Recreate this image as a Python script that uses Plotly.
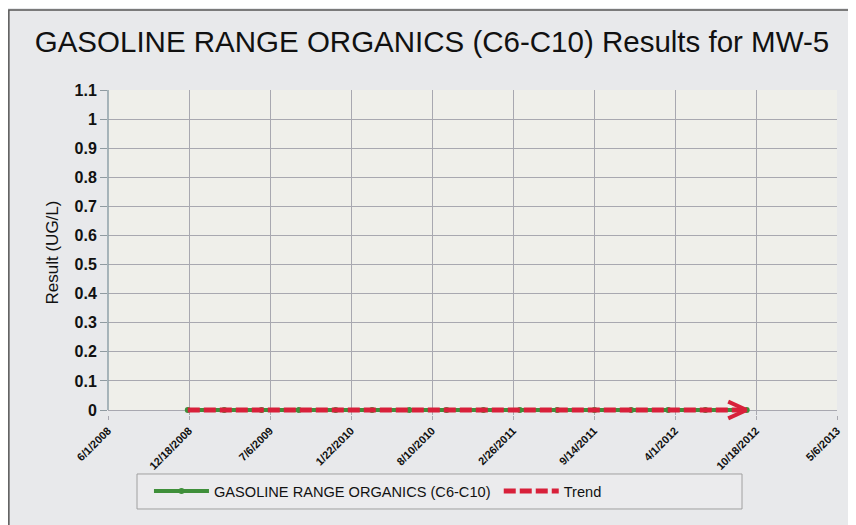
import plotly.graph_objects as go

# ---- data ----
sample_dates = ["2008-12-15", "2009-03-15", "2009-06-15", "2009-09-15", "2009-12-15",
                "2010-03-15", "2010-06-15", "2010-09-15", "2010-12-15", "2011-03-15",
                "2011-06-15", "2011-09-15", "2011-12-15", "2012-03-15", "2012-06-15",
                "2012-09-25"]
results = [0, 0, 0, 0, 0, 0, 0, 0, 0, 0, 0, 0, 0, 0, 0, 0]
trend_dates = ["2008-12-15", "2012-09-25"]
trend_values = [0, 0]
tick_dates = ["2008-06-01", "2008-12-18", "2009-07-06", "2010-01-22", "2010-08-10",
              "2011-02-26", "2011-09-14", "2012-04-01", "2012-10-18", "2013-05-06"]
tick_labels = ["6/1/2008", "12/18/2008", "7/6/2009", "1/22/2010", "8/10/2010",
               "2/26/2011", "9/14/2011", "4/1/2012", "10/18/2012", "5/6/2013"]
y_ticks = [0, 0.1, 0.2, 0.3, 0.4, 0.5, 0.6, 0.7, 0.8, 0.9, 1, 1.1]
y_labels = ["0", "0.1", "0.2", "0.3", "0.4", "0.5", "0.6", "0.7", "0.8", "0.9", "1", "1.1"]
y_min, y_max = 0, 1.1

FONT = "Liberation Sans, Arial, sans-serif"
RED = "#d8203a"
GREEN = "#3f8f3a"
PAPER = "#e8e9eb"

fig = go.Figure()
fig.add_trace(go.Scatter(
    x=sample_dates, y=results, mode="lines+markers",
    name="GASOLINE RANGE ORGANICS (C6-C10)",
    line=dict(color=GREEN, width=4),
    marker=dict(color=GREEN, size=6, symbol="circle"),
    cliponaxis=False, legend="legend",
))
fig.add_trace(go.Scatter(
    x=trend_dates, y=trend_values, mode="lines",
    name="Trend",
    line=dict(color=RED, width=5, dash="12px,4px"),
    legend="legend2",
))
# open chevron arrow head at end of trend
for dy in (-9, 9):
    fig.add_annotation(
        x=trend_dates[-1], y=trend_values[-1], ax=-20, ay=dy,
        xref="x", yref="y",
        showarrow=True, arrowhead=0, arrowwidth=4, arrowcolor=RED, text="",
    )

legend_common = dict(orientation="h", xanchor="left", y=-0.2338, yanchor="middle",
                     bgcolor="rgba(0,0,0,0)", borderwidth=0,
                     font=dict(size=14.6, family=FONT, color="#111111"),
                     itemwidth=55)

fig.update_layout(
    width=848, height=517,
    margin=dict(l=100, r=19, t=82, b=110),
    paper_bgcolor=PAPER,
    plot_bgcolor=PAPER,
    font=dict(family=FONT, color="#111111"),
    title=dict(text="GASOLINE RANGE ORGANICS (C6-C10) Results for MW-5",
               x=0.5, xref="container", xanchor="center", y=0.935, yanchor="middle",
               font=dict(size=29.5, family=FONT, color="#111111")),
    showlegend=True,
    legend=dict(x=0.0562, **legend_common),
    legend2=dict(x=0.536, **legend_common),
    shapes=[
        # plotting area background (value range only)
        dict(type="rect", xref="paper", yref="y", x0=0, x1=1, y0=y_min, y1=y_max,
             line=dict(width=0), fillcolor="#efefea", layer="below"),
        # y axis line
        dict(type="line", xref="paper", yref="y", x0=0, x1=0, y0=y_min, y1=y_max,
             line=dict(color="#8fa0a8", width=1.5), layer="above"),
        # outer frame
        dict(type="rect", xref="paper", yref="paper",
             x0=-0.136, x1=1.0206, y0=-0.45, y1=1.246,
             line=dict(color="#555555", width=1.5), fillcolor="rgba(0,0,0,0)",
             layer="below"),
        # legend box
        dict(type="rect", xref="paper", yref="paper",
             x0=0.0398, x1=0.8697, y0=-0.2892, y1=-0.1815,
             line=dict(color="#a0a0a0", width=1), fillcolor="#ebebed",
             layer="below"),
    ],
)
fig.update_xaxes(
    type="date", range=["2008-06-01", "2013-05-06"],
    tickvals=tick_dates, ticktext=tick_labels, tickangle=-45,
    tickfont=dict(size=11, family=FONT, weight="bold", color="#111111"),
    showgrid=True, gridcolor="#a8a8b0", gridwidth=1,
    ticks="outside", ticklen=4, tickcolor="#a8a8b0",
    showline=False, zeroline=False,
)
fig.update_yaxes(
    range=[-0.0172, y_max], tickvals=y_ticks, ticktext=y_labels,
    tickfont=dict(size=16, family=FONT, weight="bold", color="#111111"),
    showgrid=True, gridcolor="#a8a8b0", gridwidth=1,
    ticks="outside", ticklen=7, tickcolor="#8f9aa0",
    showline=False, zeroline=False,
    title=dict(text="Result (UG/L)", font=dict(size=17, family=FONT, color="#111111"),
               standoff=11),
)

fig.write_html("out.html")
